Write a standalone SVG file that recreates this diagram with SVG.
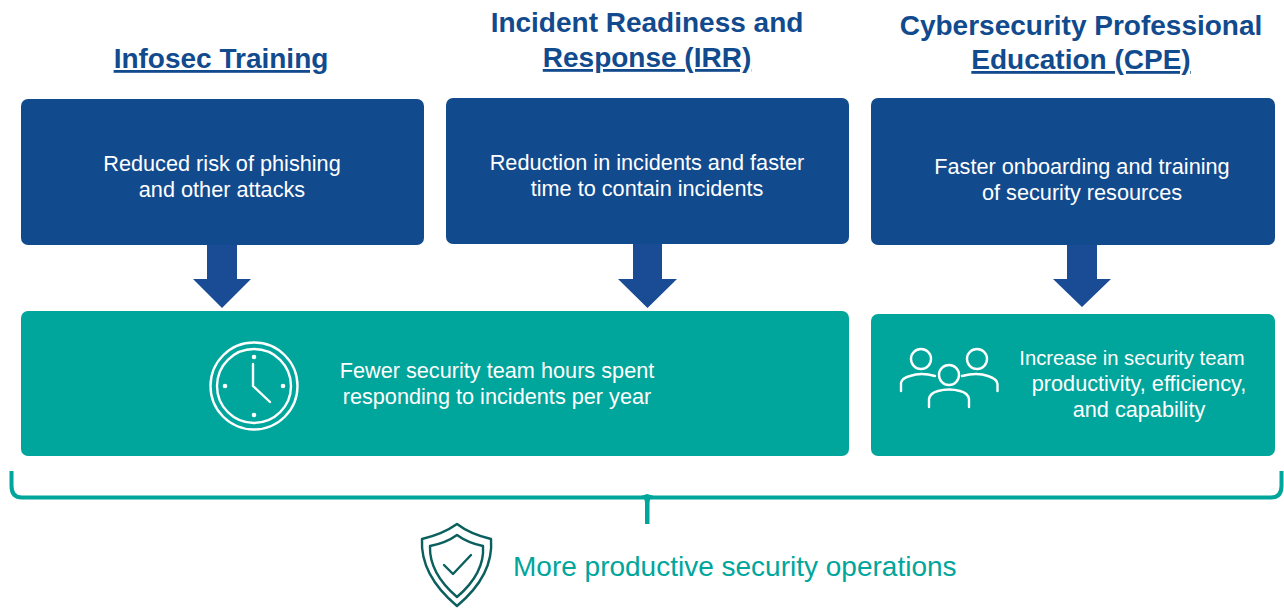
<svg xmlns="http://www.w3.org/2000/svg" width="1284" height="608" viewBox="0 0 1284 608">
<style>
text{font-family:"Liberation Sans",Arial,sans-serif}
.h{font-size:28px;font-weight:700;fill:#124a8e;text-anchor:middle}
.u{text-decoration:underline}
.b{font-size:21.700px;fill:#fff;text-anchor:middle}
.blue{fill:#124a8e}.teal{fill:#00a59b}
.arr{fill:#1a4c96}
.ic{fill:none;stroke:#fff;stroke-width:2.4;stroke-linecap:round;stroke-linejoin:round}
.dk{fill:none;stroke:#0b5f5e;stroke-width:2.4;stroke-linejoin:round;stroke-linecap:round}
</style>
<rect width="1284" height="608" fill="#fff"/>
<g id="head-infosec"><text class="h u" x="221" y="68">Infosec Training</text></g>
<g id="head-irr"><text class="h" x="647" y="32">Incident Readiness and</text><text class="h u" x="647" y="67">Response (IRR)</text></g>
<g id="head-cpe"><text class="h" x="1081" y="35">Cybersecurity Professional</text><text class="h u" x="1081" y="69">Education (CPE)</text></g>
<g id="connectors">
<path class="arr" d="M207 244H237V279H251L222 308L193 279H207Z"/>
<path class="arr" d="M633 244H662V279H677L647.500 308L618 279H633Z"/>
<path class="arr" d="M1067 244H1097V279H1111L1082 307L1053 279H1067Z"/>
<path d="M11.500 471V486Q11.500 497.500 22 497.500H1271Q1281.500 497.500 1281.500 486V471" fill="none" stroke="#00a59b" stroke-width="4"/>
<path d="M641 496Q645 498 645 503V524H649.500V503Q649.500 498 654 496L647 494Z" fill="#00a59b"/>
</g>
<g id="box-phishing"><rect class="blue" x="21" y="99" width="403" height="146" rx="7"/>
<text class="b" x="222" y="171">Reduced risk of phishing</text><text class="b" x="222" y="197">and other attacks</text></g>
<g id="box-incidents"><rect class="blue" x="446" y="98" width="403" height="146" rx="7"/>
<text class="b" x="647" y="170">Reduction in incidents and faster</text><text class="b" x="647" y="196">time to contain incidents</text></g>
<g id="box-onboarding"><rect class="blue" x="871" y="98" width="404" height="147" rx="7"/>
<text class="b" x="1082" y="174">Faster onboarding and training</text><text class="b" x="1082" y="200">of security resources</text></g>
<g id="box-hours"><rect class="teal" x="21" y="311" width="828" height="145" rx="7"/>
<g id="clock"><circle class="ic" cx="254" cy="386" r="43.500"/><circle class="ic" cx="254" cy="386" r="37"/>
<path class="ic" d="M253 364V386L270 402"/>
<g fill="#fff"><circle cx="254" cy="357" r="2.300"/><circle cx="254" cy="415" r="2.300"/><circle cx="225" cy="386" r="2.300"/><circle cx="283" cy="386" r="2.300"/></g></g>
<text class="b" x="497" y="378">Fewer security team hours spent</text><text class="b" x="497" y="404">responding to incidents per year</text></g>
<g id="box-productivity"><rect class="teal" x="871" y="314" width="404" height="142" rx="7"/>
<g id="people"><circle class="ic" cx="921" cy="359" r="10"/><circle class="ic" cx="977" cy="359" r="10"/><circle class="ic" cx="949" cy="375" r="10"/>
<path class="ic" d="M901 391V383Q902 378 910 376Q921 372 935 376M962 376Q977 372 988 376Q997 379 997.500 384V391"/>
<path class="ic" d="M929 407V399Q930 393 938 391Q949 388 960 391Q968 393 969 399V407"/></g>
<text class="b" x="1132" y="365" style="font-size:20.300px">Increase in security team</text><text class="b" x="1139" y="391">productivity, efficiency,</text><text class="b" x="1139" y="417">and capability</text></g>
<g id="outcome">
<path class="dk" d="M457 524Q470 534 491 539Q494 575 457 606Q420 575 422 539Q443 534 457 524Z"/>
<path class="dk" d="M457 535Q468 543 483 546Q485 573 457 597Q429 573 430 546Q446 543 457 535Z"/>
<path class="dk" d="M444 565L453 574L471 555"/>
<text x="513" y="576" font-size="28" fill="#00a59b">More productive security operations</text></g>
</svg>
